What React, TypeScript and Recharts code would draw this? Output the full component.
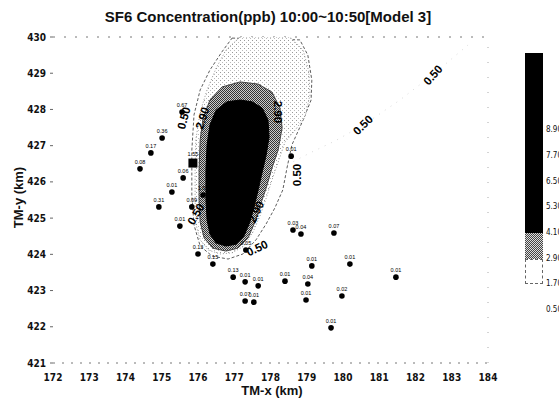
import React from 'react';
import { ScatterChart, Scatter, XAxis, YAxis, ReferenceLine } from 'recharts';

const xTicks = [172, 173, 174, 175, 176, 177, 178, 179, 180, 181, 182, 183, 184];
const yTicks = [421, 422, 423, 424, 425, 426, 427, 428, 429, 430];

// sampling points: position (km) and measured value (ppb)
const samplePoints = [
  { x: 175.56, y: 427.93, v: '0.67' },
  { x: 175.01, y: 427.21, v: '0.36' },
  { x: 174.7, y: 426.8, v: '0.17' },
  { x: 174.4, y: 426.36, v: '0.08' },
  { x: 175.59, y: 426.11, v: '0.06' },
  { x: 175.28, y: 425.72, v: '0.01' },
  { x: 174.92, y: 425.31, v: '0.31' },
  { x: 176.14, y: 425.64, v: '1.03' },
  { x: 175.83, y: 425.31, v: '0.09' },
  { x: 175.5, y: 424.78, v: '0.01' },
  { x: 176.0, y: 424.01, v: '0.13' },
  { x: 176.41, y: 423.73, v: '0.15' },
  { x: 176.97, y: 423.37, v: '0.13' },
  { x: 177.3, y: 423.24, v: '0.01' },
  { x: 177.66, y: 423.13, v: '0.01' },
  { x: 177.3, y: 422.71, v: '0.07' },
  { x: 177.54, y: 422.68, v: '0.01' },
  { x: 178.4, y: 423.26, v: '0.01' },
  { x: 179.03, y: 423.18, v: '0.04' },
  { x: 178.98, y: 422.74, v: '0.01' },
  { x: 179.14, y: 423.68, v: '0.01' },
  { x: 180.19, y: 423.73, v: '0.01' },
  { x: 179.97, y: 422.85, v: '0.02' },
  { x: 179.67, y: 421.97, v: '0.01' },
  { x: 181.46, y: 423.37, v: '0.01' },
  { x: 178.62, y: 424.67, v: '0.03' },
  { x: 178.84, y: 424.56, v: '0.04' },
  { x: 179.75, y: 424.59, v: '0.07' },
  { x: 178.57, y: 426.71, v: '0.01' },
  { x: 177.32, y: 424.12, v: '0.05' },
];
const sourcePoint = [{ x: 175.86, y: 426.52, v: '1.55' }];

// contour lines (km)
const contour050 = [
  { x: 176.94, y: 429.97 }, { x: 178.81, y: 429.92 }, { x: 179.03, y: 429.5 }, { x: 179.14, y: 428.81 },
  { x: 179.12, y: 428.26 }, { x: 178.9, y: 427.71 }, { x: 178.59, y: 427.02 }, { x: 178.46, y: 426.41 },
  { x: 178.34, y: 425.78 }, { x: 178.12, y: 425.28 }, { x: 177.88, y: 424.84 }, { x: 177.6, y: 424.4 },
  { x: 177.24, y: 424.01 }, { x: 176.83, y: 423.87 }, { x: 176.39, y: 423.95 }, { x: 176.06, y: 424.23 },
  { x: 175.89, y: 424.81 }, { x: 175.83, y: 425.64 }, { x: 175.83, y: 426.88 }, { x: 175.89, y: 427.85 },
  { x: 176.06, y: 428.54 }, { x: 176.33, y: 429.09 }, { x: 176.66, y: 429.59 }, { x: 176.94, y: 429.97 },
];
const contour050Tongue = [
  { x: 178.46, y: 426.47 }, { x: 179.09, y: 426.8 }, { x: 179.78, y: 427.13 }, { x: 180.61, y: 427.6 },
  { x: 181.57, y: 428.26 }, { x: 182.54, y: 429.01 }, { x: 183.45, y: 429.78 },
];
const contour170 = [
  { x: 177.16, y: 430.0 }, { x: 178.54, y: 430.0 }, { x: 178.9, y: 429.64 }, { x: 179.06, y: 429.03 },
  { x: 179.09, y: 428.4 }, { x: 178.95, y: 427.79 }, { x: 178.68, y: 427.43 }, { x: 178.4, y: 427.1 },
  { x: 178.23, y: 426.6 }, { x: 178.04, y: 426.05 }, { x: 177.88, y: 425.55 }, { x: 177.71, y: 425.06 },
  { x: 177.52, y: 424.62 }, { x: 177.27, y: 424.23 }, { x: 176.94, y: 424.04 }, { x: 176.61, y: 424.01 },
  { x: 176.28, y: 424.12 }, { x: 176.06, y: 424.4 }, { x: 175.94, y: 424.84 }, { x: 175.92, y: 425.5 },
  { x: 175.92, y: 426.33 }, { x: 175.94, y: 427.16 }, { x: 176.06, y: 427.93 }, { x: 176.25, y: 428.54 },
  { x: 176.5, y: 429.14 }, { x: 176.77, y: 429.64 }, { x: 177.16, y: 430.0 },
];
const contour290 = [
  { x: 177.16, y: 428.76 }, { x: 177.66, y: 428.7 }, { x: 178.04, y: 428.48 }, { x: 178.26, y: 428.04 },
  { x: 178.32, y: 427.49 }, { x: 178.21, y: 426.88 }, { x: 178.04, y: 426.38 }, { x: 177.88, y: 425.83 },
  { x: 177.71, y: 425.33 }, { x: 177.57, y: 424.89 }, { x: 177.38, y: 424.45 }, { x: 177.1, y: 424.17 },
  { x: 176.77, y: 424.09 }, { x: 176.41, y: 424.17 }, { x: 176.17, y: 424.45 }, { x: 176.06, y: 424.89 },
  { x: 176.03, y: 425.5 }, { x: 176.03, y: 426.33 }, { x: 176.06, y: 427.16 }, { x: 176.14, y: 427.76 },
  { x: 176.33, y: 428.26 }, { x: 176.66, y: 428.62 }, { x: 177.16, y: 428.76 },
];
const contour410 = [
  { x: 177.16, y: 428.26 }, { x: 177.49, y: 428.21 }, { x: 177.77, y: 428.04 }, { x: 177.93, y: 427.71 },
  { x: 177.96, y: 427.24 }, { x: 177.88, y: 426.74 }, { x: 177.77, y: 426.27 }, { x: 177.66, y: 425.78 },
  { x: 177.54, y: 425.28 }, { x: 177.43, y: 424.89 }, { x: 177.27, y: 424.51 }, { x: 177.05, y: 424.28 },
  { x: 176.77, y: 424.23 }, { x: 176.5, y: 424.31 }, { x: 176.33, y: 424.56 }, { x: 176.25, y: 424.95 },
  { x: 176.22, y: 425.5 }, { x: 176.22, y: 426.33 }, { x: 176.25, y: 427.02 }, { x: 176.33, y: 427.57 },
  { x: 176.5, y: 427.98 }, { x: 176.8, y: 428.21 }, { x: 177.16, y: 428.26 },
];

const contourLabels = [
  { x: 175.61, y: 427.76, text: '0.50', angle: -75 },
  { x: 176.12, y: 427.76, text: '2.90', angle: -72 },
  { x: 178.2, y: 427.93, text: '2.90', angle: 90 },
  { x: 178.73, y: 426.19, text: '0.50', angle: -90 },
  { x: 177.6, y: 425.17, text: '2.90', angle: -65 },
  { x: 177.63, y: 424.17, text: '0.50', angle: -25 },
  { x: 175.94, y: 425.11, text: '0.50', angle: -60 },
  { x: 180.55, y: 427.57, text: '0.50', angle: -45 },
  { x: 182.48, y: 428.95, text: '0.50', angle: -48 },
];

const levels = [0.5, 1.7, 2.9, 4.1, 5.3, 6.5, 7.7, 8.9];
const levelTop = 12.5;

const tickFont = {
  fontSize: 10,
  fontFamily: '"DejaVu Sans Condensed", "Liberation Sans Narrow", Arial, sans-serif',
  fill: '#111',
  fontWeight: 'bold' as const,
};
const hidden = () => <g />;

function PointShape(props: any) {
  const { cx, cy, payload } = props;
  return (
    <g>
      <circle cx={cx} cy={cy} r={2.8} fill="#000" />
      <text x={cx} y={cy - 5} textAnchor="middle" fontSize={5.5} fontFamily="Liberation Sans, Arial" fill="#000">
        {payload.v}
      </text>
    </g>
  );
}

function SourceShape(props: any) {
  const { cx, cy, payload } = props;
  return (
    <g>
      <rect x={cx - 4.5} y={cy - 4.5} width={9} height={9} fill="#000" />
      <text x={cx} y={cy - 7} textAnchor="middle" fontSize={5.5} fontFamily="Liberation Sans, Arial" fill="#000">
        {payload.v}
      </text>
    </g>
  );
}

function LabelShape(props: any) {
  const { cx, cy, payload } = props;
  return (
    <text
      x={cx}
      y={cy}
      transform={`rotate(${payload.angle} ${cx} ${cy})`}
      textAnchor="middle"
      dominantBaseline="central"
      fontSize={11.5}
      fontWeight="bold"
      fontFamily="Liberation Sans, Arial"
      fill="#000"
    >
      {payload.text}
    </text>
  );
}

function ColorBar() {
  const step = 25.7;
  const base = 310;
  const yOf = (v: number) => base - ((v - 0.5) / 1.2) * step;
  const box = (lo: number, hi: number, style: React.CSSProperties) => (
    <div
      style={{
        position: 'absolute',
        left: 525,
        top: yOf(hi),
        width: 18,
        height: yOf(lo) - yOf(hi),
        boxSizing: 'border-box',
        ...style,
      }}
    />
  );
  return (
    <>
      {box(levels[1], levels[2], { background: '#fff', border: '1px dashed #666' })}
      {box(levels[2], levels[3], {
        background: 'repeating-conic-gradient(#444 0% 25%, #ddd 0% 50%) 0 0 / 2px 2px',
      })}
      {box(levels[3], levelTop, { background: '#000' })}
      {levels.map((v) => (
        <div
          key={v}
          style={{
            position: 'absolute',
            left: 546,
            top: yOf(v) - 5,
            fontSize: 8,
            lineHeight: '10px',
            fontFamily: '"DejaVu Sans Condensed", "Liberation Sans", Arial',
            color: '#111',
            whiteSpace: 'nowrap',
          }}
        >
          {v.toFixed(2)}
        </div>
      ))}
    </>
  );
}

export default function App() {
  return (
    <div style={{ position: 'absolute', left: 0, top: 0, width: 559, height: 404, background: '#fff', overflow: 'hidden' }}>
      <svg width={0} height={0} style={{ position: 'absolute' }}>
        <defs>
          <pattern id="lightDots" width={4} height={4} patternUnits="userSpaceOnUse">
            <rect width={4} height={4} fill="#fff" />
            <rect x={0} y={0} width={1} height={1} fill="#999" />
            <rect x={2} y={2} width={1} height={1} fill="#bbb" />
          </pattern>
          <pattern id="grayChecks" width={2} height={2} patternUnits="userSpaceOnUse">
            <rect width={2} height={2} fill="#ccc" />
            <rect x={0} y={0} width={1} height={1} fill="#333" />
            <rect x={1} y={1} width={1} height={1} fill="#333" />
          </pattern>
        </defs>
      </svg>
      <div
        style={{
          position: 'absolute',
          left: 0,
          width: 536,
          top: 8,
          textAlign: 'center',
          fontFamily: 'Liberation Sans, Arial',
          fontWeight: 'bold',
          fontSize: 15,
          color: '#111',
        }}
      >
        SF6 Concentration(ppb) 10:00~10:50[Model 3]
      </div>
      <ScatterChart width={559} height={404} margin={{ top: 37, right: 71, bottom: 0, left: 0 }}>
        <XAxis
          type="number"
          dataKey="x"
          domain={[172, 184]}
          ticks={xTicks}
          allowDataOverflow
          height={41}
          tickLine={false}
          tickMargin={5}
          axisLine={{ stroke: '#777', strokeDasharray: '2 7' }}
          tick={tickFont}
        />
        <YAxis
          type="number"
          dataKey="y"
          domain={[421, 430]}
          ticks={yTicks}
          allowDataOverflow
          width={53}
          tickSize={3}
          tickMargin={4}
          axisLine={false}
          tickLine={{ stroke: '#666' }}
          tick={tickFont}
        />
        <ReferenceLine y={430} stroke="#777" strokeDasharray="2 9" />
        <ReferenceLine x={184} stroke="#aaa" strokeDasharray="1 14" />
        <Scatter
          data={contour050Tongue}
          shape={hidden}
          isAnimationActive={false}
          line={{ stroke: '#c8c8c8', strokeWidth: 0.7, strokeDasharray: '1 6', fill: 'none' }}
        />
        <Scatter
          data={contour050}
          shape={hidden}
          isAnimationActive={false}
          line={{ stroke: '#333', strokeWidth: 0.8, strokeDasharray: '3 2', fill: 'none' }}
        />
        <Scatter
          data={contour170}
          shape={hidden}
          isAnimationActive={false}
          line={{ stroke: '#777', strokeWidth: 0.8, strokeDasharray: '1 2', fill: 'url(#lightDots)' }}
        />
        <Scatter
          data={contour290}
          shape={hidden}
          isAnimationActive={false}
          line={{ stroke: '#444', strokeWidth: 1, fill: 'url(#grayChecks)' }}
        />
        <Scatter
          data={contour410}
          shape={hidden}
          isAnimationActive={false}
          line={{ stroke: '#000', strokeWidth: 1, fill: '#000' }}
        />
        <Scatter data={contourLabels} shape={LabelShape} isAnimationActive={false} />
        <Scatter data={samplePoints} shape={PointShape} isAnimationActive={false} />
        <Scatter data={sourcePoint} shape={SourceShape} isAnimationActive={false} />
      </ScatterChart>
      <ColorBar />
      <div
        style={{
          position: 'absolute',
          left: 222,
          width: 100,
          top: 383,
          textAlign: 'center',
          fontFamily: 'Liberation Sans, Arial',
          fontWeight: 'bold',
          fontSize: 13,
          color: '#111',
        }}
      >
        TM-x (km)
      </div>
      <div
        style={{
          position: 'absolute',
          left: -32,
          top: 190,
          width: 100,
          textAlign: 'center',
          transform: 'rotate(-90deg)',
          fontFamily: 'Liberation Sans, Arial',
          fontWeight: 'bold',
          fontSize: 13,
          color: '#111',
        }}
      >
        TM-y (km)
      </div>
    </div>
  );
}
